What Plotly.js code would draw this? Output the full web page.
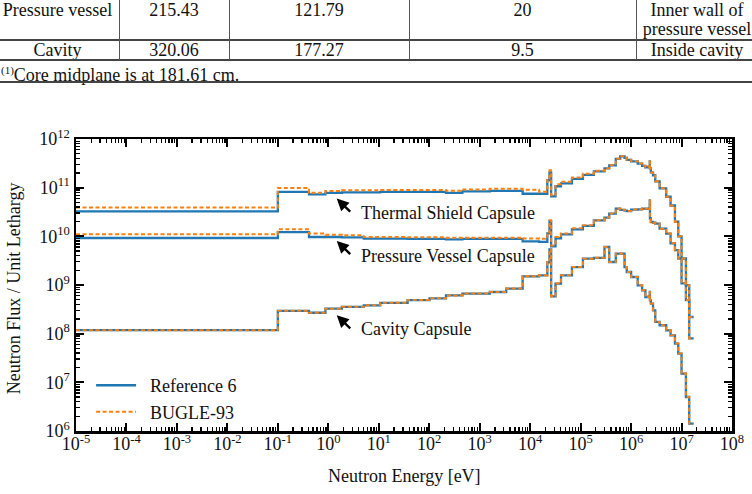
<!DOCTYPE html>
<html>
<head>
<meta charset="utf-8">
<script src="https://cdn.plot.ly/plotly-3.0.1.min.js"></script>
<style>
  html, body { margin: 0; padding: 0; background: #fff; }
  #wrap { position: relative; width: 752px; height: 494px; overflow: hidden; }
  #plot { position: absolute; left: 0; top: 0; width: 752px; height: 494px; }
  #tbl { position: absolute; left: 0; top: 0; width: 752px; height: 90px;
         font-family: "Liberation Serif", "Times New Roman", serif; font-size: 18px; color: #111; }
  .cell { position: absolute; text-align: center; line-height: 19px; white-space: nowrap; }
  .hl { position: absolute; left: 0; width: 752px; background: #444; }
  .vl { position: absolute; width: 1px; background: #555; }
</style>
</head>
<body>
<div id="wrap">
  <div id="plot"></div>
  <div id="tbl"></div>
</div>
<script>
// ---------------- table (top of page) ----------------
const tableRows = [
  ["Pressure vessel", "215.43", "121.79", "20", "Inner wall of<br>pressure vessel"],
  ["Cavity", "320.06", "177.27", "9.5", "Inside cavity"]
];
const footnoteText = "<sup style='font-size:11px'>(1)</sup>Core midplane is at 181.61 cm.";

// ---------------- chart data ----------------
// BUGLE 47-group energy boundaries (eV), ascending
const groupBounds = [1.0e-5, 0.1, 0.414, 0.8764, 1.855, 5.044, 10.68, 37.27, 101.3, 214.5, 454.0,
  1585, 3355, 7102, 15030, 21880, 24180, 26060, 31830, 40870, 67380, 111100, 183200, 297200,
  368800, 497900, 608100, 742700, 820800, 1.003e6, 1.353e6, 1.653e6, 1.920e6, 2.231e6, 2.346e6,
  2.365e6, 2.466e6, 2.725e6, 3.012e6, 3.679e6, 4.966e6, 6.065e6, 7.408e6, 8.607e6, 1.0e7,
  1.221e7, 1.419e7, 1.733e7];

// Thermal shield capsule
const thermalRef6 = [3.27e10, 8.2e10, 7.3e10, 7.8e10, 8.0e10, 8.0e10, 8.2e10, 8.2e10, 8.2e10, 7.8e10,
  8.4e10, 8.6e10, 8.6e10, 7.5e10, 7.5e10, 1.42e11, 2.07e11, 6.6e10, 1.07e11, 1.23e11, 1.52e11, 1.84e11,
  2.17e11, 2.50e11, 2.88e11, 3.92e11, 4.41e11, 4.10e11, 3.73e11, 3.48e11, 3.12e11, 2.81e11, 2.62e11,
  2.75e11, 3.48e11, 2.50e11, 2.07e11, 1.80e11, 1.35e11, 9.7e10, 6.5e10, 4.3e10, 2.0e10, 1.0e10,
  3.5e9, 9.9e8, 2.2e8];
const thermalBugle = [3.9e10, 9.9e10, 7.9e10, 8.5e10, 8.8e10, 8.8e10, 9.0e10, 9.0e10, 9.0e10, 8.6e10,
  9.2e10, 9.5e10, 9.5e10, 9.1e10, 8.2e10, 1.56e11, 2.27e11, 7.0e10, 1.17e11, 1.32e11, 1.61e11, 1.93e11,
  2.22e11, 2.50e11, 2.88e11, 3.92e11, 4.41e11, 4.10e11, 3.73e11, 3.48e11, 3.12e11, 2.81e11, 2.62e11,
  2.75e11, 3.48e11, 2.50e11, 2.07e11, 1.80e11, 1.35e11, 9.7e10, 6.5e10, 4.3e10, 2.0e10, 1.0e10,
  3.5e9, 9.9e8, 2.2e8];

// Pressure vessel capsule
const vesselRef6 = [9.24e9, 1.22e10, 9.7e9, 9.7e9, 9.55e9, 9.0e9, 9.0e9, 8.9e9, 8.9e9, 8.7e9,
  8.9e9, 8.9e9, 8.9e9, 7.9e9, 7.7e9, 1.15e10, 2.04e10, 6.2e9, 9.1e9, 1.10e10, 1.39e10, 1.64e10,
  2.13e10, 2.43e10, 2.93e10, 3.71e10, 3.51e10, 3.38e10, 3.31e10, 3.54e10, 3.59e10, 3.71e10, 3.68e10,
  3.77e10, 5.5e10, 2.34e10, 1.97e10, 1.90e10, 1.82e10, 1.44e10, 1.14e10, 7.2e9, 5.2e9, 3.5e9,
  1.08e9, 4.9e8, 8.0e7];
const vesselBugle = [1.10e10, 1.40e10, 1.14e10, 1.08e10, 1.05e10, 9.7e9, 9.7e9, 9.55e9, 9.55e9, 9.3e9,
  9.4e9, 9.4e9, 9.4e9, 9.0e9, 8.9e9, 1.21e10, 2.13e10, 6.5e9, 9.7e9, 1.15e10, 1.46e10, 1.68e10,
  2.13e10, 2.43e10, 2.93e10, 3.71e10, 3.51e10, 3.38e10, 3.31e10, 3.54e10, 3.59e10, 3.71e10, 3.68e10,
  3.77e10, 5.5e10, 2.34e10, 1.97e10, 1.90e10, 1.82e10, 1.44e10, 1.14e10, 7.2e9, 5.2e9, 3.5e9,
  1.08e9, 4.9e8, 8.0e7];

// Cavity capsule
const cavityRef6 = [1.18e8, 2.94e8, 2.69e8, 3.27e8, 3.56e8, 3.83e8, 4.31e8, 4.90e8, 5.33e8, 6.1e8,
  6.65e8, 7.18e8, 8.43e8, 1.51e9, 1.58e9, 2.92e9, 5.41e9, 5.86e8, 1.07e9, 1.58e9, 2.34e9, 3.48e9,
  3.62e9, 6.04e9, 2.97e9, 4.42e9, 4.42e9, 2.34e9, 1.85e9, 1.46e9, 9.86e8, 7.78e8, 5.66e8, 5.86e8,
  7.18e8, 4.85e8, 4.15e8, 3.02e8, 1.74e8, 1.49e8, 1.17e8, 9.25e7, 6.25e7, 3.89e7, 1.51e7, 5.0e6, 1.42e6];
const cavityBugle = [1.18e8, 2.94e8, 2.69e8, 3.27e8, 3.56e8, 3.83e8, 4.31e8, 4.90e8, 5.33e8, 6.1e8,
  6.65e8, 7.18e8, 8.43e8, 1.51e9, 1.58e9, 2.92e9, 5.41e9, 5.86e8, 1.07e9, 1.58e9, 2.34e9, 3.48e9,
  3.62e9, 6.04e9, 2.97e9, 4.42e9, 4.42e9, 2.34e9, 1.85e9, 1.46e9, 9.86e8, 7.78e8, 5.66e8, 5.86e8,
  7.18e8, 4.85e8, 4.15e8, 3.02e8, 1.74e8, 1.49e8, 1.17e8, 9.25e7, 6.25e7, 3.89e7, 1.51e7, 5.0e6, 1.42e6];

const xTickVals = [1e-5, 1e-4, 1e-3, 1e-2, 1e-1, 1e0, 1e1, 1e2, 1e3, 1e4, 1e5, 1e6, 1e7, 1e8];
const xTickText = ["10<sup>-5</sup>", "10<sup>-4</sup>", "10<sup>-3</sup>", "10<sup>-2</sup>", "10<sup>-1</sup>",
  "10<sup>0</sup>", "10<sup>1</sup>", "10<sup>2</sup>", "10<sup>3</sup>", "10<sup>4</sup>", "10<sup>5</sup>",
  "10<sup>6</sup>", "10<sup>7</sup>", "10<sup>8</sup>"];
const yTickVals = [1e6, 1e7, 1e8, 1e9, 1e10, 1e11, 1e12];
const yTickText = ["10<sup>6</sup>", "10<sup>7</sup>", "10<sup>8</sup>", "10<sup>9</sup>",
  "10<sup>10</sup>", "10<sup>11</sup>", "10<sup>12</sup>"];

const seriesNames = ["Reference 6", "BUGLE-93"];
const capsuleLabels = ["Thermal Shield Capsule", "Pressure Vessel Capsule", "Cavity Capsule"];

// ---------------- build table ----------------
(function buildTable() {
  const t = document.getElementById('tbl');
  const colEdges = [-4, 119, 229, 409, 636, 758];
  const rowTops = [1, 41];
  let html = '';
  tableRows.forEach((row, r) => {
    row.forEach((txt, c) => {
      const l = colEdges[c], w = colEdges[c + 1] - colEdges[c];
      html += `<div class="cell" style="left:${l}px;width:${w}px;top:${rowTops[r]}px">${txt}</div>`;
    });
  });
  html += `<div class="cell" style="left:1px;top:61px;text-align:left">${footnoteText}</div>`;
  html += `<div class="hl" style="top:39px;height:1.5px"></div>`;
  html += `<div class="hl" style="top:59px;height:1.5px"></div>`;
  html += `<div class="hl" style="top:81px;height:2px"></div>`;
  [119, 229, 409, 636].forEach(x => { html += `<div class="vl" style="left:${x}px;top:0;height:60px"></div>`; });
  t.innerHTML = html;
})();

// ---------------- build chart ----------------
function stepTrace(vals, isBugle, showLeg) {
  return {
    x: groupBounds.slice(),
    y: vals.concat([vals[vals.length - 1]]),
    type: 'scatter', mode: 'lines',
    line: isBugle ? {shape: 'hv', color: '#ff7f0e', width: 2, dash: '4px,2.5px'}
                  : {shape: 'hv', color: '#1f77b4', width: 2.3},
    name: isBugle ? '\u00A0\u00A0' + seriesNames[1] : '\u00A0\u00A0' + seriesNames[0],
    legendgroup: isBugle ? 'b' : 'r',
    showlegend: showLeg,
    hoverinfo: 'x+y'
  };
}
const data = [
  stepTrace(thermalRef6, false, true),
  stepTrace(vesselRef6, false, false),
  stepTrace(cavityRef6, false, false),
  stepTrace(thermalBugle, true, true),
  stepTrace(vesselBugle, true, false),
  stepTrace(cavityBugle, true, false),
  // empty carrier for the minor-tick overlay axes
  {type: 'scatter', mode: 'lines', x: [], y: [], xaxis: 'x2', yaxis: 'y2', showlegend: false, hoverinfo: 'skip'}
];

const fontFam = '"Liberation Serif", "Times New Roman", serif';
const axisCommon = {
  type: 'log', showgrid: false, zeroline: false,
  showline: true, linewidth: 2.5, linecolor: '#000', mirror: 'allticks',
  ticks: 'inside', ticklen: 8, tickwidth: 2, tickcolor: '#000',
  tickmode: 'array',
  tickfont: {family: fontFam, size: 18, color: '#111'}
};
const minorAxis = {
  type: 'log', showgrid: false, zeroline: false,
  showline: true, linewidth: 2.5, linecolor: '#000', mirror: 'allticks',
  ticks: 'inside', ticklen: 4, tickwidth: 1.3, tickcolor: '#000',
  tickmode: 'linear', dtick: 'D1', showticklabels: false
};

const textLabels = [
  {txt: capsuleLabels[0], x: 0.61, y: 10.47},
  {txt: capsuleLabels[1], x: 0.61, y: 9.59},
  {txt: capsuleLabels[2], x: 0.61, y: 8.09}
];
const arrowHeads = [
  {x: 0.167, y: 10.775},
  {x: 0.167, y: 9.904},
  {x: 0.167, y: 8.377}
];

const annotations = [];
textLabels.forEach(t => annotations.push({
  xref: 'x', yref: 'y', x: t.x, y: t.y, text: t.txt, showarrow: false,
  xanchor: 'left', yanchor: 'middle', font: {family: fontFam, size: 18, color: '#111'}
}));
arrowHeads.forEach(a => annotations.push({
  xref: 'x', yref: 'y', x: a.x, y: a.y, text: '', showarrow: true,
  ax: 15, ay: 14.5, arrowhead: 2, arrowsize: 1.0, arrowwidth: 2.4, arrowcolor: '#000', standoff: 0
}));
annotations.push({
  xref: 'paper', yref: 'paper', x: 0.5, y: -0.155, text: 'Neutron Energy [eV]', showarrow: false,
  xanchor: 'center', yanchor: 'middle', font: {family: fontFam, size: 18, color: '#111'}
});
annotations.push({
  xref: 'paper', yref: 'paper', x: -0.094, y: 0.49, text: 'Neutron Flux / Unit Lethargy', showarrow: false,
  textangle: -90, xanchor: 'center', yanchor: 'middle', font: {family: fontFam, size: 18, color: '#111'}
});

const layout = {
  width: 752, height: 494,
  margin: {l: 76, r: 20, t: 139, b: 63, pad: 0},
  paper_bgcolor: '#fff', plot_bgcolor: 'rgba(0,0,0,0)',
  showlegend: true,
  legend: {
    x: 0.023, y: 0.219, xanchor: 'left', yanchor: 'top',
    bgcolor: 'rgba(0,0,0,0)', borderwidth: 0,
    font: {family: fontFam, size: 18, color: '#111'},
    itemwidth: 40, tracegroupgap: 0
  },
  xaxis: Object.assign({}, axisCommon, {
    range: [-5, 8], tickvals: xTickVals, ticktext: xTickText, ticklabelstandoff: -5
  }),
  yaxis: Object.assign({}, axisCommon, {
    range: [6, 12], tickvals: yTickVals, ticktext: yTickText
  }),
  xaxis2: Object.assign({}, minorAxis, {range: [-5, 8], overlaying: 'x', anchor: 'y', side: 'bottom'}),
  yaxis2: Object.assign({}, minorAxis, {range: [6, 12], overlaying: 'y', anchor: 'x', side: 'left'}),
  annotations: annotations
};

Plotly.newPlot('plot', data, layout, {displayModeBar: false, staticPlot: true});
</script>
</body>
</html>
